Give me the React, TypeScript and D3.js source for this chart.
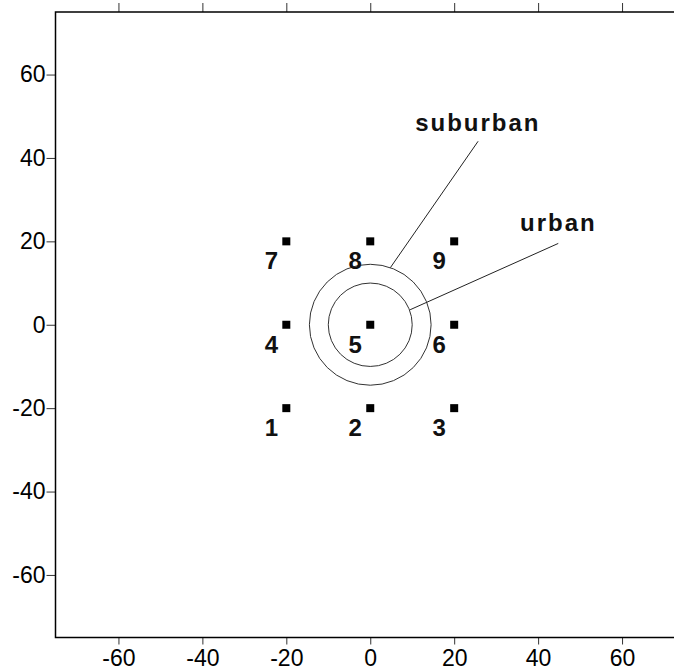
import React, { useEffect, useRef } from "react";
import * as d3 from "d3";

// Station grid (x, y in km) with its numbering
const stationIds = [1, 2, 3, 4, 5, 6, 7, 8, 9];
const stationX = [-20, 0, 20, -20, 0, 20, -20, 0, 20];
const stationY = [-20, -20, -20, 0, 0, 0, 20, 20, 20];

// Concentric zones around the centre
const zoneNames = ["urban", "suburban"];
const zoneRadii = [10, 14.5];
// Leader lines: start on the zone ring, end below the zone name
const leaderStartX = [9.5, 4.8];
const leaderStartY = [3.6, 13.7];
const leaderEndX = [44.8, 25.7];
const leaderEndY = [19.5, 44];
const zoneLabelX = [35.7, 10.7];
const zoneLabelY = [22.4, 46.4];

const tickValues = [-60, -40, -20, 0, 20, 40, 60];
const domainMin = -75;
const domainMax = 75;

export default function App() {
  const ref = useRef<SVGSVGElement>(null);

  useEffect(() => {
    const svg = d3.select(ref.current);
    svg.selectAll("*").remove();

    const x = d3.scaleLinear().domain([domainMin, domainMax]).range([55.5, 685]);
    const y = d3.scaleLinear().domain([domainMin, domainMax]).range([637.5, 12]);
    const font = "Arial, 'Liberation Sans', sans-serif";
    const fmt = (d: d3.NumberValue) => String(d);

    // Bottom axis
    const bottom = svg
      .append("g")
      .attr("transform", `translate(0,${y(domainMin)})`)
      .call(d3.axisBottom(x).tickValues(tickValues).tickSize(7).tickPadding(4).tickFormat(fmt));
    // Top axis (ticks only)
    const top = svg
      .append("g")
      .attr("transform", `translate(0,${y(domainMax)})`)
      .call(d3.axisTop(x).tickValues(tickValues).tickSize(9).tickFormat(() => ""));
    // Left axis
    const left = svg
      .append("g")
      .attr("transform", `translate(${x(domainMin)},0)`)
      .call(d3.axisLeft(y).tickValues(tickValues).tickSize(9).tickPadding(1).tickFormat(fmt));

    [bottom, top, left].forEach((g) => {
      g.select(".domain").remove();
      g.selectAll(".tick line").attr("stroke", "#333").attr("stroke-width", 1);
      g.selectAll(".tick text")
        .attr("fill", "#000")
        .style("font-family", font)
        .style("font-size", "23px");
    });
    bottom.selectAll(".tick text").attr("dy", "0.74em");

    // Plot frame
    svg
      .append("rect")
      .attr("x", x(domainMin))
      .attr("y", y(domainMax))
      .attr("width", x(domainMax) - x(domainMin))
      .attr("height", y(domainMin) - y(domainMax))
      .attr("fill", "none")
      .attr("stroke", "#000")
      .attr("stroke-width", 1.5);

    // Zone rings
    zoneRadii.forEach((r) => {
      svg
        .append("ellipse")
        .attr("cx", x(0))
        .attr("cy", y(0))
        .attr("rx", x(r) - x(0))
        .attr("ry", y(0) - y(r))
        .attr("fill", "none")
        .attr("stroke", "#333")
        .attr("stroke-width", 1);
    });

    // Leader lines and zone names
    zoneNames.forEach((name, i) => {
      svg
        .append("line")
        .attr("x1", x(leaderStartX[i]))
        .attr("y1", y(leaderStartY[i]))
        .attr("x2", x(leaderEndX[i]))
        .attr("y2", y(leaderEndY[i]))
        .attr("stroke", "#222")
        .attr("stroke-width", 1);
      svg
        .append("text")
        .attr("x", x(zoneLabelX[i]))
        .attr("y", y(zoneLabelY[i]))
        .style("font-family", font)
        .style("font-size", "24px")
        .style("font-weight", "bold")
        .style("letter-spacing", "2px")
        .attr("fill", "#111")
        .text(name);
    });

    // Stations
    const markerSize = 8;
    stationIds.forEach((id, i) => {
      const cx = x(stationX[i]);
      const cy = y(stationY[i]);
      svg
        .append("rect")
        .attr("x", cx - markerSize / 2)
        .attr("y", cy - markerSize / 2)
        .attr("width", markerSize)
        .attr("height", markerSize)
        .attr("fill", "#000");
      svg
        .append("text")
        .attr("x", cx - 15)
        .attr("y", cy + 28)
        .attr("text-anchor", "middle")
        .style("font-family", font)
        .style("font-size", "24px")
        .style("font-weight", "bold")
        .attr("fill", "#111")
        .text(String(id));
    });
  }, []);

  return (
    <svg
      ref={ref}
      width={674}
      height={671}
      style={{ position: "absolute", left: 0, top: 0, background: "#fff" }}
    />
  );
}
